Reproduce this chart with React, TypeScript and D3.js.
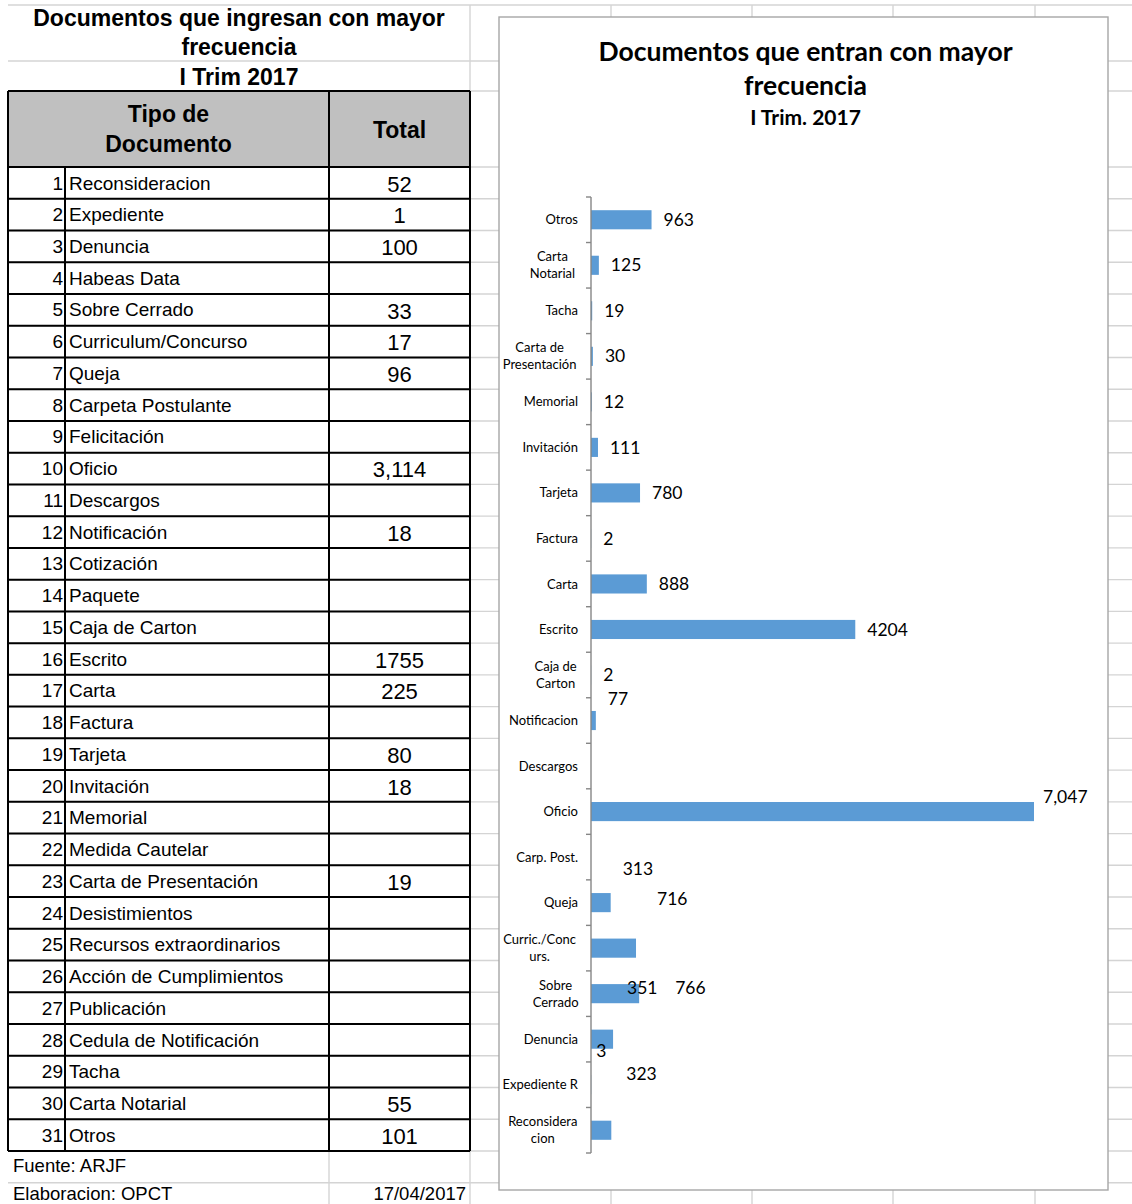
import React from "react";
import * as d3 from "d3";

// ---------- Table data ----------
const tableTitle = ["Documentos que ingresan con mayor", "frecuencia"];
const tableSubtitle = "I Trim 2017";
const tableHeaderType = ["Tipo de", "Documento"];
const tableHeaderTotal = "Total";
const tableTypes = [
  "Reconsideracion", "Expediente", "Denuncia", "Habeas Data", "Sobre Cerrado",
  "Curriculum/Concurso", "Queja", "Carpeta Postulante", "Felicitación", "Oficio",
  "Descargos", "Notificación", "Cotización", "Paquete", "Caja de Carton",
  "Escrito", "Carta", "Factura", "Tarjeta", "Invitación",
  "Memorial", "Medida Cautelar", "Carta de Presentación", "Desistimientos", "Recursos extraordinarios",
  "Acción de Cumplimientos", "Publicación", "Cedula de Notificación", "Tacha", "Carta Notarial",
  "Otros",
];
const tableTotals = [
  "52", "1", "100", "", "33", "17", "96", "", "", "3,114",
  "", "18", "", "", "", "1755", "225", "", "80", "18",
  "", "", "19", "", "", "", "", "", "", "55", "101",
];
const footerSource = "Fuente: ARJF";
const footerMade = "Elaboracion: OPCT";
const footerDate = "17/04/2017";

// ---------- Chart data ----------
const chartTitle = ["Documentos que entran con mayor", "frecuencia"];
const chartSubtitle = "I Trim. 2017";
const chartCategories = [
  "Otros", "Carta\nNotarial", "Tacha", "Carta de\nPresentación", "Memorial",
  "Invitación", "Tarjeta", "Factura", "Carta", "Escrito",
  "Caja de\nCarton", "Notificacion", "Descargos", "Oficio", "Carp. Post.",
  "Queja", "Curric./Conc\nurs.", "Sobre\nCerrado", "Denuncia", "Expediente R",
  "Reconsidera\ncion",
];
const chartValues = [
  963, 125, 19, 30, 12, 111, 780, 2, 888, 4204, 2, 77, 0, 7047, 0,
  313, 716, 766, 351, 3, 323,
];
const commaLabelCategories = ["Oficio"];
// manual label displacement (pixels) as in the original chart
const labelNudges: Record<string, [number, number]> = {
  "Notificacion": [0, -22],
  "Oficio": [-3, -15],
  "Queja": [0, -34],
  "Curric./Conc\nurs.": [9, -49],
  "Sobre\nCerrado": [24, -6],
  "Denuncia": [2, -51],
  "Expediente R": [-7, -34],
  "Reconsidera\ncion": [3, -56],
};

const W = 1132;
const H = 1204;
const GRID = "#d4d4d4";
const ARIAL = "Liberation Sans, Arial, Helvetica, sans-serif";
const CALIBRI = "Lato, Carlito, Calibri, sans-serif";

export default function App() {
  // spreadsheet geometry
  const tL = 8, cNum = 65, cTot = 329, tR = 470;
  const rowTop = 167;
  const rowH = (1151 - 167) / 31;
  const gridH: number[] = [5, 61, 91];
  for (let k = 0; k <= 33; k++) gridH.push(rowTop + k * rowH);
  const gridV = [470, 611, 752, 893, 1035];

  // chart geometry
  const box = { x: 499, y: 17, w: 609, h: 1173 };
  const axisX = 591;
  const x = d3.scaleLinear().domain([0, 8000]).range([axisX, axisX + (443 / 7047) * 8000]);
  const y = d3
    .scaleBand<string>()
    .domain(chartCategories)
    .range([197, 1153])
    .paddingInner(0.58)
    .paddingOuter(0.29);
  const step = y.step();
  const fmtComma = d3.format(",");

  const arial = { fontFamily: ARIAL };
  const calibri = { fontFamily: CALIBRI };

  return (
    <div style={{ position: "absolute", left: 0, top: 0 }}>
      <svg width={W} height={H} viewBox={`0 0 ${W} ${H}`} style={{ display: "block", background: "#fff" }}>
        {/* spreadsheet gridlines */}
        <g stroke={GRID} strokeWidth={1.4}>
          {gridH.map((gy, i) => (
            <line key={"h" + i} x1={tL} x2={W} y1={gy} y2={gy} />
          ))}
          {gridV.map((gx, i) => (
            <line key={"v" + i} x1={gx} x2={gx} y1={5} y2={H} />
          ))}
          <line x1={cTot} x2={cTot} y1={1151} y2={H} />
        </g>

        {/* table titles */}
        <g style={arial} fontWeight="bold" fontSize={23} textAnchor="middle" fill="#000">
          <text x={(tL + tR) / 2} y={18} dy="0.35em">{tableTitle[0]}</text>
          <text x={(tL + tR) / 2} y={47} dy="0.35em">{tableTitle[1]}</text>
          <text x={(tL + tR) / 2} y={77} dy="0.35em">{tableSubtitle}</text>
        </g>

        {/* header */}
        <rect x={tL} y={91} width={tR - tL} height={rowTop - 91} fill="#c0c0c0" />
        <g style={arial} fontWeight="bold" fontSize={23} textAnchor="middle" fill="#000">
          <text x={(tL + cTot) / 2} y={114} dy="0.35em">{tableHeaderType[0]}</text>
          <text x={(tL + cTot) / 2} y={144} dy="0.35em">{tableHeaderType[1]}</text>
          <text x={(cTot + tR) / 2} y={130} dy="0.35em">{tableHeaderTotal}</text>
        </g>

        {/* rows */}
        <g style={arial} fill="#000">
          {tableTypes.map((t, i) => {
            const cy = rowTop + rowH * (i + 0.5);
            return (
              <g key={t}>
                <text x={cNum - 2} y={cy} dy="0.35em" fontSize={19} textAnchor="end">{i + 1}</text>
                <text x={cNum + 4} y={cy} dy="0.35em" fontSize={19}>{t}</text>
                {tableTotals[i] && (
                  <text x={(cTot + tR) / 2} y={cy + 1} dy="0.35em" fontSize={22} textAnchor="middle">
                    {tableTotals[i]}
                  </text>
                )}
              </g>
            );
          })}
        </g>

        {/* table borders */}
        <g stroke="#000" strokeWidth={2}>
          <line x1={tL} x2={tR} y1={91} y2={91} />
          {tableTypes.map((_, i) => (
            <line key={"b" + i} x1={tL} x2={tR} y1={rowTop + i * rowH} y2={rowTop + i * rowH} />
          ))}
          <line x1={tL} x2={tR} y1={rowTop + 31 * rowH} y2={rowTop + 31 * rowH} />
          <line x1={tL} x2={tL} y1={91} y2={rowTop + 31 * rowH} />
          <line x1={cNum} x2={cNum} y1={rowTop} y2={rowTop + 31 * rowH} />
          <line x1={cTot} x2={cTot} y1={91} y2={rowTop + 31 * rowH} />
          <line x1={tR} x2={tR} y1={91} y2={rowTop + 31 * rowH} />
        </g>

        {/* footer */}
        <g style={arial} fontSize={18.5} fill="#000">
          <text x={13} y={1166} dy="0.35em">{footerSource}</text>
          <text x={13} y={1194} dy="0.35em">{footerMade}</text>
          <text x={466} y={1194} dy="0.35em" textAnchor="end">{footerDate}</text>
        </g>

        {/* chart area */}
        <rect x={box.x} y={box.y} width={box.w} height={box.h} fill="#fff" stroke="#a6a6a6" strokeWidth={1.4} />
        <g style={calibri} fontWeight="bold" textAnchor="middle" fill="#000">
          <text x={box.x + box.w / 2 + 2} y={52} dy="0.35em" fontSize={26.5}>{chartTitle[0]}</text>
          <text x={box.x + box.w / 2 + 2} y={86} dy="0.35em" fontSize={26.5}>{chartTitle[1]}</text>
          <text x={box.x + box.w / 2 + 2} y={118} dy="0.35em" fontSize={21}>{chartSubtitle}</text>
        </g>

        {/* bars */}
        <g>
          {chartCategories.map((c, i) => (
            <rect
              key={c}
              x={x(0)}
              y={y(c)!}
              width={Math.max(0, x(chartValues[i]) - x(0))}
              height={y.bandwidth()}
              fill="#5b9bd5"
            />
          ))}
        </g>

        {/* axis */}
        <g stroke="#868686" strokeWidth={1.4}>
          <line x1={axisX} x2={axisX} y1={197} y2={1153} />
          {d3.range(chartCategories.length + 1).map((k) => (
            <line key={k} x1={axisX - 5} x2={axisX} y1={197 + k * step} y2={197 + k * step} />
          ))}
        </g>

        {/* category labels */}
        <g style={calibri} fontSize={13} fill="#000">
          {chartCategories.map((c) => {
            const lines = c.split("\n");
            const cy = y(c)! + y.bandwidth() / 2;
            if (lines.length === 1) {
              return (
                <text key={c} x={578} y={cy} dy="0.35em" textAnchor="end">{lines[0]}</text>
              );
            }
            // centred multi-line block, right-aligned against the axis
            const maxLen = Math.max(...lines.map((l) => l.length));
            const blockW = maxLen * 6.4;
            const center = 578 - blockW / 2;
            return (
              <g key={c}>
                {lines.map((l, j) => (
                  <text
                    key={j}
                    x={center}
                    y={cy + (j - (lines.length - 1) / 2) * 17}
                    dy="0.35em"
                    textAnchor="middle"
                  >
                    {l}
                  </text>
                ))}
              </g>
            );
          })}
        </g>

        {/* value labels */}
        <g style={calibri} fontSize={17.5} fill="#000">
          {chartCategories.map((c, i) => {
            const v = chartValues[i];
            if (!v) return null;
            const [dx, dy] = labelNudges[c] || [0, 0];
            const txt = commaLabelCategories.includes(c) ? fmtComma(v) : String(v);
            return (
              <text key={c} x={x(v) + 12 + dx} y={y(c)! + y.bandwidth() / 2 + dy} dy="0.35em">
                {txt}
              </text>
            );
          })}
        </g>
      </svg>
    </div>
  );
}
